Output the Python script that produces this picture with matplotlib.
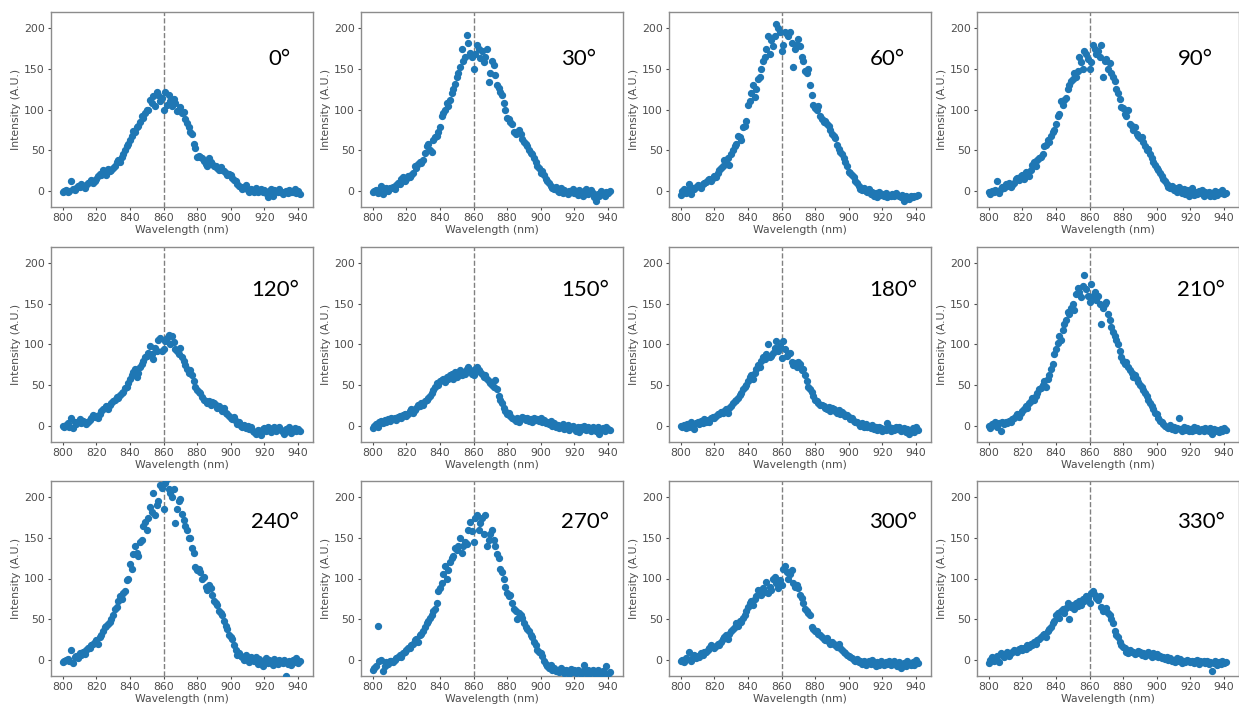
import numpy as np
import matplotlib.pyplot as plt

# wavelength grid (nm), one point per nm
wavelength = np.arange(800, 942)

angles = ['0°', '30°', '60°', '90°', '120°', '150°', '180°', '210°', '240°', '270°', '300°', '330°']

# intensity (A.U.)
i_0 = [-2, 0, 1, -1, 0, 12, 2, 1, 4, 6,
       5, 8, 6, 4, 7, 9, 11, 13, 10, 12,
       14, 18, 21, 19, 25, 23, 20, 27, 24, 26,
       28, 30, 35, 38, 36, 42, 45, 50, 55, 58,
       62, 68, 74, 72, 78, 80, 85, 92, 90, 96,
       99, 100, 112, 108, 117, 104, 122, 118, 110, 114,
       100, 121, 106, 118, 110, 104, 113, 108, 98, 100,
       103, 96, 97, 88, 84, 78, 72, 70, 57, 53,
       42, 43, 41, 40, 37, 33, 30, 40, 36, 33,
       31, 30, 28, 26, 29, 25, 24, 22, 20, 21,
       19, 16, 13, 12, 8, 6, 5, 2, 3, 7,
       1, -2, 2, 0, -1, 3, -2, 0, 2, -1,
       1, -3, -8, 0, 2, -6, 1, 0, -2, 2,
       -1, -4, -2, 0, -3, 1, -2, -1, 2, -3,
       0, -4]
i_30 = [-2, 0, 1, -3, -1, 6, -4, 2, 3, 0,
        4, 3, 5, 2, 7, 10, 8, 14, 17, 12,
        15, 18, 17, 20, 22, 30, 28, 33, 36, 34,
        38, 46, 55, 57, 50, 48, 62, 66, 68, 72,
        78, 92, 96, 100, 108, 104, 112, 120, 125, 131,
        140, 145, 152, 175, 160, 165, 192, 182, 170, 165,
        150, 168, 180, 175, 163, 172, 158, 165, 175, 134,
        145, 160, 155, 142, 130, 127, 122, 118, 108, 100,
        90, 88, 85, 82, 72, 70, 72, 75, 70, 64,
        60, 58, 55, 50, 46, 45, 40, 36, 30, 28,
        22, 24, 20, 15, 12, 10, 6, 4, 2, 5,
        0, -2, 3, -3, 1, -2, -4, 0, -1, 2,
        -3, 0, -5, 1, -2, -6, 0, 2, -4, -1,
        1, -3, -8, -12, -4, -6, 0, -3, -7, -2,
        -3, 0]
i_60 = [-5, 0, 2, -3, 1, 8, -4, 3, 2, 5,
        7, 6, 4, 8, 9, 11, 13, 14, 12, 16,
        18, 17, 22, 25, 28, 30, 38, 36, 40, 32,
        45, 50, 55, 57, 68, 66, 62, 78, 80, 86,
        106, 110, 120, 130, 115, 125, 138, 140, 150, 160,
        165, 175, 190, 168, 185, 178, 190, 205, 200, 195,
        172, 180, 195, 193, 190, 195, 182, 152, 175, 180,
        187, 178, 165, 160, 148, 145, 150, 130, 118, 105,
        102, 100, 104, 92, 88, 85, 86, 82, 80, 75,
        70, 68, 65, 56, 52, 48, 45, 40, 36, 30,
        23, 22, 20, 17, 12, 10, 6, 2, 1, 3,
        0, -2, 2, -4, -1, -6, -3, -8, -2, -5,
        -4, -6, -3, -8, -5, -7, -4, -6, -3, -5,
        -6, -8, -5, -12, -7, -9, -10, -6, -8, -7,
        -6, -5]
i_90 = [-2, -4, 0, -1, 1, 12, -3, 2, 5, 3,
        8, 6, 9, 5, 7, 10, 14, 16, 13, 18,
        20, 15, 23, 21, 18, 25, 32, 35, 30, 38,
        40, 42, 45, 55, 56, 63, 60, 68, 72, 75,
        82, 92, 95, 110, 105, 112, 114, 125, 130, 135,
        138, 145, 140, 148, 165, 158, 150, 172, 168, 162,
        150, 158, 180, 175, 168, 172, 165, 180, 140, 160,
        162, 150, 157, 145, 140, 135, 125, 120, 113, 103,
        102, 95, 92, 100, 82, 80, 75, 78, 70, 68,
        65, 66, 60, 55, 50, 52, 45, 40, 35, 32,
        28, 25, 22, 18, 15, 12, 8, 5, 3, 6,
        1, 3, -2, 5, 0, -3, 2, -4, 1, -6,
        -2, 3, -5, -1, -4, 0, -3, 1, -6, -2,
        -4, -1, -6, -3, -7, 0, -5, -2, -3, 1,
        -4, -3]
i_120 = [0, -2, 1, 3, -1, 10, -3, 4, 2, 5,
         8, 3, 6, 5, 2, 4, 7, 10, 13, 11,
         12, 9, 15, 18, 20, 22, 24, 21, 25, 28,
         30, 32, 35, 34, 38, 40, 42, 46, 48, 52,
         58, 62, 66, 70, 60, 65, 72, 76, 80, 84,
         86, 90, 98, 88, 82, 96, 92, 106, 108, 92,
         95, 104, 108, 112, 100, 110, 103, 95, 92, 88,
         96, 85, 80, 75, 70, 65, 68, 62, 55, 48,
         44, 42, 40, 35, 32, 30, 28, 30, 26, 29,
         28, 25, 22, 24, 20, 18, 22, 16, 14, 12,
         10, 8, 11, 6, 2, 5, 0, -2, 1, -3,
         0, -4, -2, -6, -8, -10, -5, -7, -12, -4,
         -3, -6, -2, -5, -8, -3, -1, -6, -4, -2,
         -5, -8, -10, -4, -6, -2, -9, -5, -3, -7,
         -4, -6]
i_150 = [-3, 0, 2, -1, 4, 6, 3, 7, 5, 8,
         6, 9, 8, 10, 7, 11, 12, 10, 13, 14,
         12, 15, 18, 20, 16, 19, 22, 25, 24, 28,
         26, 30, 32, 34, 36, 40, 44, 48, 52, 50,
         55, 56, 58, 54, 60, 57, 62, 64, 58, 66,
         60, 65, 68, 62, 66, 64, 70, 72, 68, 64,
         62, 70, 72, 68, 66, 64, 60, 62, 58, 55,
         52, 50, 48, 56, 45, 36, 32, 28, 22, 18,
         15, 16, 12, 10, 8, 6, 10, 5, 8, 11,
         9, 7, 10, 6, 8, 5, 9, 7, 8, 6,
         10, 4, 7, 3, 5, 2, 6, 0, 3, -2,
         1, -3, 0, 2, -4, -1, 1, -5, -2, 0,
         -3, -6, -1, -8, -2, -4, 0, -5, -2, -3,
         -6, -1, -4, -7, -2, -10, -5, -3, -6, -2,
         -4, -5]
i_180 = [0, -2, 1, -3, 2, -1, 4, 0, -4, 3,
         5, 2, 6, 3, 8, 5, 7, 4, 9, 11,
         10, 12, 15, 14, 17, 16, 18, 20, 16, 22,
         24, 28, 30, 32, 34, 38, 40, 45, 48, 50,
         55, 60, 62, 58, 65, 70, 75, 72, 80, 85,
         82, 88, 100, 84, 86, 90, 96, 104, 92, 98,
         83, 104, 95, 86, 88, 90, 78, 75, 77, 72,
         78, 76, 68, 70, 62, 55, 48, 45, 42, 36,
         32, 30, 28, 26, 25, 24, 22, 20, 23, 18,
         22, 20, 18, 16, 19, 15, 17, 14, 12, 13,
         11, 8, 10, 6, 4, 5, 2, 0, 3, -1,
         2, -2, 0, -3, 1, -4, -1, -5, -2, -3,
         -6, -4, -5, 3, -2, -6, -3, -5, -1, -4,
         -2, -7, -5, -3, -8, -4, -10, -6, -3, -8,
         -2, -5]
i_210 = [0, -3, 2, 1, 4, -2, 3, -6, 5, 2,
         4, 3, 6, 5, 8, 10, 12, 14, 11, 16,
         18, 20, 24, 22, 28, 30, 34, 32, 36, 40,
         45, 47, 50, 55, 48, 58, 62, 70, 76, 88,
         95, 102, 110, 105, 118, 125, 130, 140, 138, 145,
         150, 142, 162, 170, 165, 158, 172, 186, 168, 160,
         152, 175, 160, 165, 155, 160, 150, 125, 145, 150,
         152, 138, 130, 122, 115, 110, 105, 100, 92, 85,
         80, 76, 78, 72, 68, 65, 60, 62, 58, 54,
         50, 48, 44, 40, 36, 32, 28, 24, 20, 16,
         14, 10, 6, 4, 2, 0, -2, -3, 1, -4,
         -2, -5, -3, 10, -4, -6, -2, -5, -3, -7,
         -4, -6, -2, -5, -3, -7, -5, -4, -6, -3,
         -5, -7, -3, -10, -4, -6, -5, -8, -4, -6,
         -3, -5]
i_240 = [-3, -1, 0, 1, -2, 12, -4, 3, 5, 2,
         8, 6, 10, 7, 12, 14, 15, 18, 20, 22,
         24, 20, 28, 30, 35, 40, 42, 44, 46, 50,
         55, 62, 65, 72, 78, 75, 82, 85, 98, 100,
         118, 112, 130, 140, 132, 128, 145, 148, 165, 170,
         160, 175, 188, 182, 205, 178, 190, 196, 215, 212,
         185, 218, 222, 210, 205, 200, 210, 168, 185, 195,
         198, 180, 172, 165, 160, 150, 150, 138, 132, 114,
         110, 112, 108, 100, 102, 90, 86, 92, 88, 80,
         72, 70, 68, 60, 57, 55, 48, 42, 38, 30,
         28, 25, 18, 12, 6, 8, 5, 3, 0, 6,
         2, -3, 4, 0, -2, 3, -5, 1, -2, -8,
         -1, 2, -4, 0, -3, -6, 1, -2, -5, 0,
         -3, -4, 0, -20, -5, -2, -6, 0, -3, 2,
         -4, -2]
i_270 = [-12, -10, -8, 42, -2, 0, -14, -8, -3, -5,
         -2, -1, -3, 0, 2, 4, 6, 3, 8, 10,
         12, 15, 14, 18, 20, 24, 26, 22, 30, 32,
         35, 40, 45, 48, 52, 55, 60, 62, 70, 85,
         88, 95, 105, 115, 100, 110, 120, 125, 128, 138,
         135, 140, 150, 132, 140, 145, 142, 160, 170, 158,
         145, 175, 178, 160, 168, 175, 155, 178, 140, 148,
         155, 160, 148, 140, 130, 125, 112, 108, 100, 90,
         82, 78, 80, 70, 62, 60, 50, 58, 55, 52,
         45, 40, 38, 35, 30, 28, 22, 18, 12, 10,
         8, 5, -2, -5, -8, -10, -6, -12, -10, -14,
         -12, -15, -10, -13, -16, -12, -14, -17, -11, -15,
         -13, -16, -12, -15, -18, -14, -7, -16, -13, -17,
         -14, -12, -16, -18, -13, -15, -17, -14, -16, -8,
         -18, -15]
i_300 = [-2, 0, -3, 2, 1, 10, -1, 3, 6, 2,
         5, 3, 8, 6, 10, 9, 12, 15, 18, 16,
         14, 17, 20, 18, 22, 25, 28, 30, 26, 32,
         35, 38, 40, 45, 42, 48, 46, 52, 55, 60,
         65, 70, 72, 68, 75, 78, 86, 82, 80, 88,
         84, 96, 82, 90, 86, 100, 102, 95, 88, 98,
         92, 112, 115, 108, 100, 105, 110, 95, 90, 92,
         88, 80, 76, 70, 62, 60, 58, 55, 40, 38,
         36, 35, 32, 30, 28, 25, 24, 27, 22, 20,
         22, 20, 18, 16, 19, 15, 12, 10, 8, 6,
         5, 3, 2, 0, -2, 1, -3, -1, -5, -2,
         -6, -3, -2, -5, 0, -4, -8, -3, -6, -2,
         -4, -7, -3, -5, -1, -6, -4, -2, -5, -8,
         -3, -10, -6, -4, -8, -2, -5, -7, -3, -6,
         0, -4]
i_330 = [-4, 0, 3, -2, 1, 5, -3, 8, 6, 4,
         7, 9, 5, 8, 10, 12, 11, 9, 13, 14,
         12, 15, 13, 18, 16, 20, 18, 22, 20, 24,
         26, 28, 30, 32, 28, 35, 38, 40, 45, 48,
         55, 58, 52, 60, 62, 58, 64, 70, 50, 65,
         68, 62, 70, 66, 72, 68, 75, 72, 78, 76,
         70, 82, 85, 80, 76, 74, 78, 65, 60, 62,
         64, 58, 55, 50, 45, 35, 30, 28, 22, 18,
         16, 14, 10, 8, 12, 9, 10, 7, 8, 11,
         9, 6, 8, 5, 7, 10, 6, 4, 8, 5,
         7, 3, 5, 2, 4, 1, 3, 0, 2, -1,
         0, -3, 2, -2, 1, -4, -1, -3, 0, -2,
         -3, -1, -4, -2, 0, -5, -2, -3, -1, -4,
         -2, -5, -3, -14, -4, -2, -6, -3, -5, -1,
         -4, -3]

spectra = [i_0, i_30, i_60, i_90, i_120, i_150, i_180, i_210, i_240, i_270, i_300, i_330]

# panel placement in pixels (figure is 1239 x 706)
W, H = 1239, 706
col_left = [51, 361, 669, 977]
row_top = [12, 247, 481]
ax_w, ax_h = 262, 195
label_y = [0.727, 0.747, 0.76]

fig = plt.figure(figsize=(W / 100, H / 100), dpi=100)

for k, (ang, y) in enumerate(zip(angles, spectra)):
    r, c = divmod(k, 4)
    ax = fig.add_axes([col_left[c] / W, 1 - (row_top[r] + ax_h) / H, ax_w / W, ax_h / H])
    ax.scatter(wavelength, y, s=18, color='#1f77b4', zorder=3)
    ax.axvline(860, color='gray', linestyle='--', linewidth=1, zorder=2)
    ax.set_xlim(793, 949)
    ax.set_ylim(-20, 220)
    ax.set_xticks(np.arange(800, 941, 20))
    ax.set_yticks([0, 50, 100, 150, 200])
    ax.tick_params(labelsize=7.8, colors='0.3', length=2.5, width=0.8, pad=2)
    for sp in ax.spines.values():
        sp.set_color('0.55')
        sp.set_linewidth(1)
    ax.set_xlabel('Wavelength (nm)', fontsize=7.8, color='0.3', labelpad=1)
    ax.set_ylabel('Intensity (A.U.)', fontsize=7.8, color='0.3', labelpad=2)
    lx = 0.83 if k == 0 else 0.765
    ax.text(lx, label_y[r], ang, transform=ax.transAxes, fontsize=16,
            family='Lato', va='baseline', ha='left', color='black')

plt.savefig('out.png', dpi=100)
